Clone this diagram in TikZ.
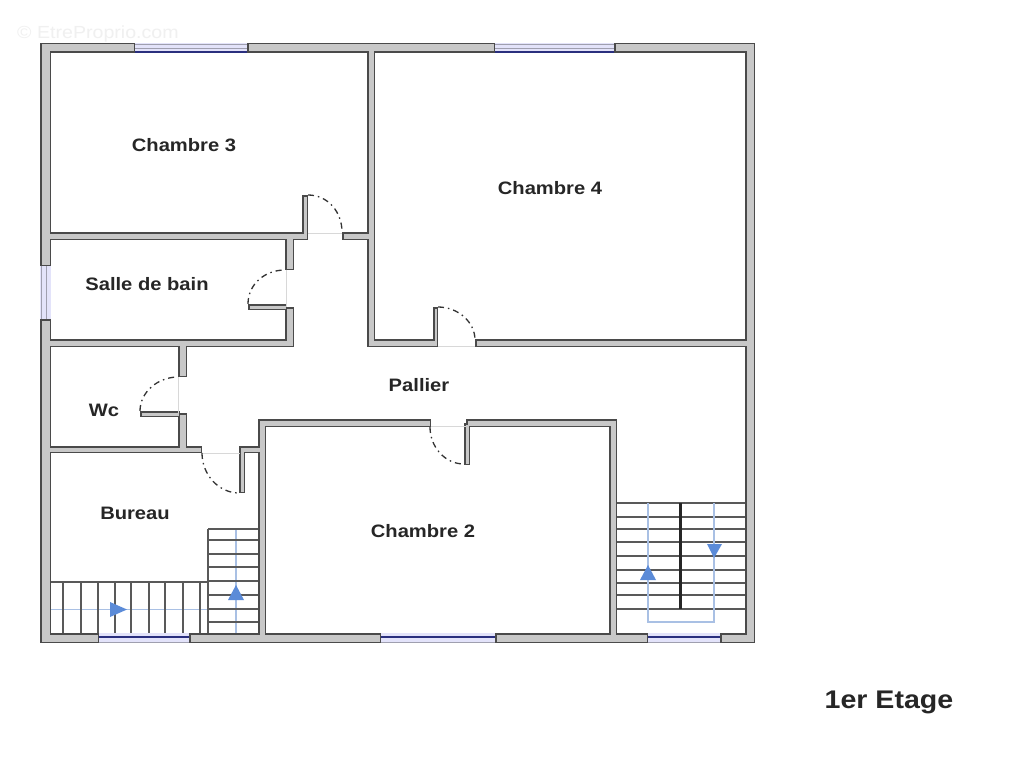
\documentclass[tikz,border=0pt]{standalone}
\usepackage{fontspec}
\setmainfont[FakeStretch=1.12]{Liberation Sans}
\definecolor{wallgray}{HTML}{C8C8C8}
\definecolor{walldark}{HTML}{4A4A4A}
\definecolor{stairblue}{HTML}{A9C0E4}
\definecolor{arrowblue}{HTML}{5B8BD8}
\definecolor{winfill}{HTML}{E3E3FA}
\definecolor{winline}{HTML}{2A2F7E}
\definecolor{sill}{HTML}{D8D8D8}
\tikzset{
  roomlabel/.style={font=\fontsize{18}{20}\selectfont\bfseries,text=black!85,inner sep=0pt},
  treadline/.style={draw=black!65,line width=1.1pt},
  bluepath/.style={draw=stairblue,line width=1.3pt},
  bluehead/.style={fill=arrowblue,draw=none},
  doorswing/.style={draw=black!80,line width=1.3pt,dash pattern=on 6pt off 4pt on 1.5pt off 4pt},
  sillline/.style={draw=sill,line width=0.7pt},
  winglass/.style={fill=winfill,draw=none},
  winstroke/.style={draw=winline,line width=1.2pt},
  winlight/.style={draw=black!30!winfill,line width=0.8pt}
}
\def\wallpieces{40/43/135/53, 247/43/495/53, 614/43/755/53,
  40/43/51/266, 40/319/51/643, 745/43/755/643,
  40/633/99/643, 189/633/381/643, 495/633/648/643, 720/633/755/643,
  40/232/306/240, 302/195/308/240, 342/232/375/240, 367/43/375/347,
  367/339/438/347, 433/307/438/347, 475/339/755/347,
  285/232/294/270, 285/307/294/347, 40/339/294/347, 248/304/287/310,
  178/339/187/377, 178/413/187/453, 140/411/180/417,
  40/446/202/453, 240/446/266/453, 239/446/245/493,
  258/419/266/643, 258/419/431/427, 466/419/617/427, 464/423/470/465, 609/419/617/643}
\begin{document}
\begin{tikzpicture}[x=1pt,y=-1pt]
\useasboundingbox (0,0) rectangle (1024,768);
\fill[white] (0,0) rectangle (1024,768);
% watermark
\node[anchor=west,inner sep=0pt,text=black!6,font=\fontsize{17.5}{20}\selectfont] (mark) at (17,34) {© EtreProprio.com};
% left stairs
\draw[bluepath,line width=1pt] (51,609) -- (208,609);
\draw[bluepath] (236,529) -- (236,633);
\foreach \x in {63,81,98,115,131,149,165,183,200} \draw[treadline] (\x,582) -- (\x,633);
\draw[treadline] (51,582) -- (208,582);
\draw[treadline] (208,529) -- (258,529) (208,529) -- (208,633);
\foreach \y in {540,554,567,581,595,609,622} \draw[treadline] (208,\y) -- (258,\y);
\fill[bluehead] (110,602) -- (127,609.5) -- (110,617) -- cycle;
\fill[bluehead] (228,600) -- (236,585) -- (244,600) -- cycle;
% right stairs
\foreach \y in {503,517,529,542,556,570,583,595,609} \draw[treadline] (617,\y) -- (745,\y);
\draw[bluepath] (648,503) -- (648,622) -- (714,622) -- (714,503);
\draw[black!85,line width=3pt] (680,503) -- (680,609);
\fill[bluehead] (640,580) -- (648,565) -- (656,580) -- cycle;
\fill[bluehead] (707,544) -- (714,558) -- (722,544) -- cycle;
% windows
\foreach \a/\b/\c/\d in {135/43/247/53, 495/43/614/53, 99/633/189/643, 381/633/495/643, 648/633/720/643, 40/266/51/319}
  \fill[winglass] (\a,\b) rectangle (\c,\d);
\foreach \a/\c in {135/247, 495/614} { \draw[winlight] (\a,44) -- (\c,44); \draw[winstroke] (\a,52) -- (\c,52); \draw[winlight] (\a,48) -- (\c,48);}
\foreach \a/\c in {99/189, 381/495, 648/720} { \draw[winstroke] (\a,637) -- (\c,637); \draw[winlight] (\a,642.5) -- (\c,642.5);}
\draw[winlight] (41,266) -- (41,319) (46,266) -- (46,319);
% walls: dark outline pass then grey core pass, so junctions merge
\foreach \a/\b/\c/\d in \wallpieces
  \draw[walldark,line width=3pt] (\a+1.5,\b+1.5) rectangle (\c-1.5,\d-1.5);
\foreach \a/\b/\c/\d in \wallpieces
  \fill[wallgray] (\a+1.5,\b+1.5) rectangle (\c-1.5,\d-1.5);
% door thresholds
\draw[sillline] (308,233) -- (342,233);
\draw[sillline] (286,270) -- (286,307);
\draw[sillline] (178,377) -- (178,413);
\draw[sillline] (202,453) -- (240,453);
\draw[sillline] (431,426) -- (466,426);
\draw[sillline] (438,346) -- (475,346);
% door swings
\draw[doorswing] (308,195) .. controls (328,195) and (342,212) .. (342,232);
\draw[doorswing] (248,304) .. controls (248,284) and (265,270) .. (285,270);
\draw[doorswing] (140,411) .. controls (140,392) and (158,377) .. (178,377);
\draw[doorswing] (202,453) .. controls (202,475) and (219,493) .. (239,493);
\draw[doorswing] (430,427) .. controls (430,447) and (445,464) .. (464,464);
\draw[doorswing] (438,307) .. controls (458,307) and (475,322) .. (475,340);
% labels
\node[roomlabel] (ch3) at (184,145) {Chambre 3};
\node[roomlabel] (ch4) at (550,188) {Chambre 4};
\node[roomlabel] (sdb) at (147,284) {Salle de bain};
\node[roomlabel] (pal) at (419,385) {Pallier};
\node[roomlabel] (wc) at (104,410) {Wc};
\node[roomlabel] (bur) at (135,513) {Bureau};
\node[roomlabel] (ch2) at (423,531) {Chambre 2};
\node[roomlabel,font=\fontsize{25.5}{28}\selectfont\bfseries] (title) at (889,702) {1er Etage};
\end{tikzpicture}
\end{document}
